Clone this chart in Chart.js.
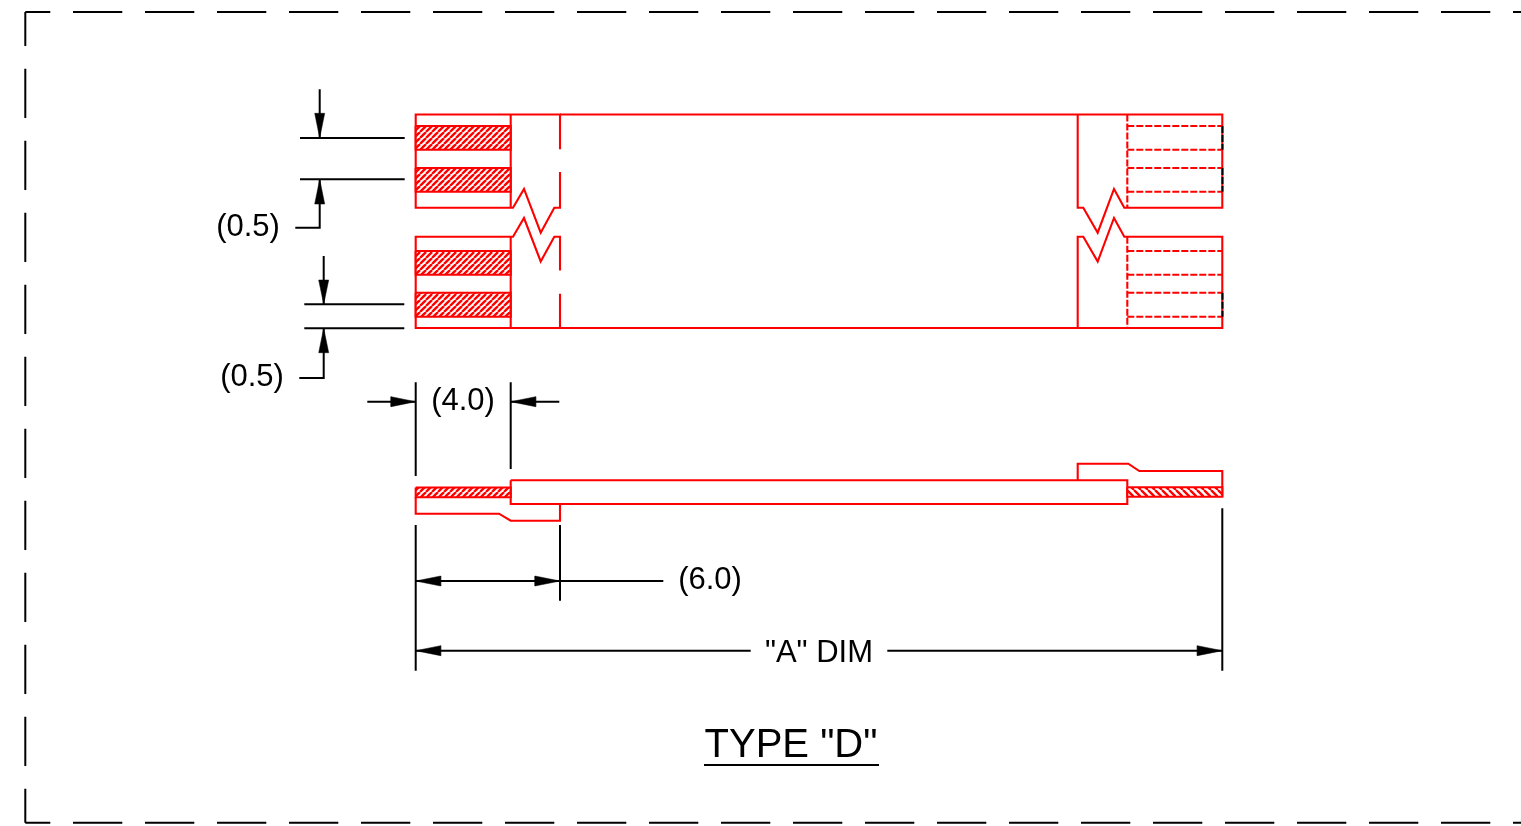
<!DOCTYPE html>
<html><head><meta charset="utf-8">
<style>html,body{margin:0;padding:0;background:#fff;overflow:hidden}canvas{display:block}</style>
<script src="https://cdn.jsdelivr.net/npm/chart.js@4/dist/chart.umd.min.js"></script>
</head><body><canvas id="c" width="1521" height="826" style="width:1521px;height:826px"></canvas>
<script>
// Border (black, long dash)
const borderTop=[[25.3,12],[1521,12]];
const borderLeft=[[25.3,12],[25.3,822.7]];
const borderBottom=[[25.3,822.7],[1521,822.7]];

// Plan view outline (red)
const planTopLeft=[[560,149.3],[560,114.5],[415.7,114.5],[415.7,207.7],[510.7,207.7],[513,207.7],[524,189],[540.7,232.7],[554.3,207.7],[560,207.7],[560,172]];
const planTopMid=[[510.7,114.5],[510.7,207.7]];
const planTopRule=[[560,114.5],[1222.3,114.5],[1222.3,207.7],[1124.3,207.7],[1114,189],[1097.7,232.7],[1083.3,207.7],[1077.7,207.7],[1077.7,114.5]];
const planBotLeft=[[560,270.5],[560,236.7],[554.3,236.7],[540.7,261.5],[524,218],[513,236.7],[415.7,236.7],[415.7,328],[1222.3,328],[1222.3,236.7],[1124.3,236.7],[1114,218],[1097.7,261.5],[1083.3,236.7],[1077.7,236.7],[1077.7,328]];
const planBotMid=[[510.7,236.7],[510.7,328]];
const planBotTick=[[560,293.7],[560,328]];

// Hatched terminals, plan view
const hatchA=[[415.7,126],[510.7,126],[510.7,149.7],[415.7,149.7]];
const hatchB=[[415.7,168],[510.7,168],[510.7,191.7],[415.7,191.7]];
const hatchC=[[415.7,251],[510.7,251],[510.7,274.7],[415.7,274.7]];
const hatchD=[[415.7,292.7],[510.7,292.7],[510.7,316.7],[415.7,316.7]];

// Hidden terminals (dashed), plan view
const hiddenV1=[[1127.3,114.5],[1127.3,207.7]];
const hiddenV2=[[1127.3,236.7],[1127.3,328]];
const hiddenYs=[126,149.7,168,191.7,251,274.7,292.7,316.7];
const hiddenBlack=[[[1222.5,126],[1222.5,149.7]],[[1222.5,168],[1222.5,191.7]],[[1222.5,292.7],[1222.5,316.7]]];

// Side view
const sideCore=[[510.7,480.3],[1127.3,480.3],[1127.3,504],[510.7,504],[510.7,480.3]];
const sideLeftJacket=[[415.7,497.3],[415.7,513.7],[499,513.7],[510.7,520.7],[560,520.7],[560,504]];
const sideRightJacket=[[1077.7,480.3],[1077.7,463.7],[1128.3,463.7],[1139.3,471],[1222.3,471],[1222.3,497]];
const sideHatchL=[[415.7,487.5],[510.7,487.5],[510.7,497.3],[415.7,497.3]];
const sideHatchR=[[1127.3,487.3],[1222.3,487.3],[1222.3,496.7],[1127.3,496.7]];

// Dimension lines (black)
const dimLines=[
 [[319.7,89.3],[319.7,138]],[[300,138],[404.7,138]],[[300,179.3],[404.7,179.3]],
 [[319.7,179.3],[319.7,227.7],[295.3,227.7]],
 [[323.7,256],[323.7,304.3]],[[304.3,304.3],[404.3,304.3]],[[304.3,328.3],[404.3,328.3]],
 [[323.7,328.3],[323.7,378],[299.3,378]],
 [[415.7,382.3],[415.7,476]],[[510.7,382.3],[510.7,469]],
 [[367.3,401.7],[415.7,401.7]],[[510.7,401.7],[559.3,401.7]],
 [[415.7,525],[415.7,670.7]],[[560,525],[560,600.7]],
 [[415.7,581],[663.3,581]],
 [[415.7,650.7],[750.7,650.7]],[[887.3,650.7],[1222.3,650.7]],
 [[1222.3,508.3],[1222.3,670.7]],
 [[704,765],[879,765]]
];
// Arrowheads: [tip, base corner, base corner]
const arrowHeads=[
 [[319.7,138],[314.7,113.3],[324.7,113.3]],
 [[319.7,179.3],[314.7,204],[324.7,204]],
 [[323.7,304.3],[318.7,280],[328.7,280]],
 [[323.7,328.3],[318.7,352.7],[328.7,352.7]],
 [[415.7,401.7],[391,396.7],[391,406.7]],
 [[510.7,401.7],[535.7,396.7],[535.7,406.7]],
 [[415.7,581],[440.7,576],[440.7,586]],
 [[560,581],[535,576],[535,586]],
 [[415.7,650.7],[440.7,645.7],[440.7,655.7]],
 [[1222.3,650.7],[1197.3,645.7],[1197.3,655.7]]
];

// Text labels
const labelTexts=['(0.5)','(0.5)','(4.0)','(6.0)','"A" DIM','TYPE "D"'];
const labelX=[248,252,463,710,819,791];
const labelY=[227,377,401,580,653,746];
const labelSizes=[31,31,31,31,31,40];

const RED='#ff0000',BLACK='#000000';
const pts=a=>a.map(p=>({x:p[0],y:p[1]}));
const line=(a,color,w,extra)=>Object.assign({data:pts(a),showLine:true,borderColor:color,borderWidth:w,pointRadius:0,fill:false,tension:0,borderCapStyle:'butt',borderJoinStyle:'miter'},extra||{});

function hatchPattern(dir,s){
  const t=document.createElement('canvas');t.width=s;t.height=s;
  const g=t.getContext('2d');g.fillStyle='#fff';g.fillRect(0,0,s,s);
  g.strokeStyle=RED;g.lineWidth=2.4;
  for(let i=-1;i<=1;i++){g.beginPath();
    if(dir>0){g.moveTo(i*s,s);g.lineTo(i*s+s,0);}else{g.moveTo(i*s,0);g.lineTo(i*s+s,s);}
    g.stroke();}
  return document.createElement('canvas').getContext('2d').createPattern(t,'repeat');
}
const pUp=hatchPattern(1,6),pDown=hatchPattern(-1,7);
const closed=a=>a.concat([a[0]]);
const hatch=(a,p)=>line(closed(a),RED,2.1,{fill:'shape',backgroundColor:p});

const W=2.1,DK=2;
const datasets=[
 line(borderTop,BLACK,DK,{borderDash:[49.3,22.7],borderDashOffset:24.3}),
 line(borderLeft,BLACK,DK,{borderDash:[49.3,22.7],borderDashOffset:15.3}),
 line(borderBottom,BLACK,DK,{borderDash:[49.3,22.7],borderDashOffset:24.3}),
 ...[hatchA,hatchB,hatchC,hatchD].map(a=>hatch(a,pUp)),
 hatch(sideHatchL,pUp),hatch(sideHatchR,pDown),
 ...hiddenBlack.map(a=>line(a,BLACK,2,{borderDash:[7,2]})),
 ...[planTopLeft,planTopMid,planTopRule,planBotLeft,planBotMid,planBotTick,sideCore,sideLeftJacket,sideRightJacket].map(a=>line(a,RED,W)),
 ...[hiddenV1,hiddenV2].map(a=>line(a,RED,W,{borderDash:[7,2]})),
 ...hiddenYs.map(y=>line([[1127.3,y],[1222,y]],RED,W,{borderDash:[7,2]})),
 ...dimLines.map(a=>line(a,BLACK,DK)),
 ...arrowHeads.map(a=>line(closed(a),BLACK,0.5,{fill:'shape',backgroundColor:BLACK}))
];

const textPlugin={id:'drawingText',afterDatasetsDraw(chart){
  const c=chart.ctx,x=chart.scales.x,y=chart.scales.y;
  c.save();c.fillStyle='#000';c.textAlign='center';c.textBaseline='middle';
  labelTexts.forEach((t,i)=>{c.font=labelSizes[i]+'px "Liberation Sans", Arial, sans-serif';
    c.fillText(t,x.getPixelForValue(labelX[i]),y.getPixelForValue(labelY[i]));});
  c.restore();
}};

new Chart(document.getElementById('c'),{
  type:'scatter',
  data:{datasets},
  plugins:[textPlugin],
  options:{
    responsive:false,animation:false,devicePixelRatio:1,
    layout:{padding:0},
    plugins:{legend:{display:false},tooltip:{enabled:false},title:{display:false}},
    scales:{
      x:{type:'linear',min:0,max:1521,display:false},
      y:{type:'linear',min:0,max:826,reverse:true,display:false}
    }
  }
});
</script></body></html>
